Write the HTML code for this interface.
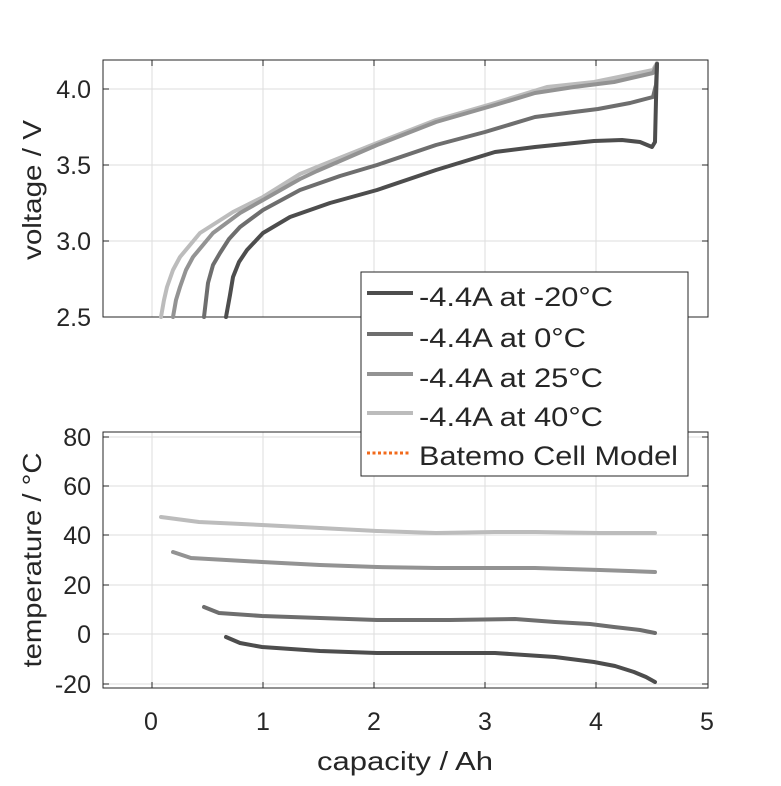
<!DOCTYPE html>
<html><head><meta charset="utf-8"><style>
html,body{margin:0;padding:0;background:#fff}
text{font-family:"Liberation Sans",sans-serif;fill:#262626}
</style></head><body>
<svg width="781" height="781" viewBox="0 0 781 781" xmlns="http://www.w3.org/2000/svg">
<rect width="781" height="781" fill="#fff"/>
<!-- top axes -->
<g stroke="#dedede" stroke-width="1">
<line x1="152" y1="60" x2="152" y2="317"/><line x1="263" y1="60" x2="263" y2="317"/><line x1="374" y1="60" x2="374" y2="317"/><line x1="485" y1="60" x2="485" y2="317"/><line x1="596" y1="60" x2="596" y2="317"/>
<line x1="103" y1="89" x2="708" y2="89"/><line x1="103" y1="165" x2="708" y2="165"/><line x1="103" y1="241" x2="708" y2="241"/>
</g>
<rect x="103" y="60" width="605" height="257" fill="none" stroke="#262626" stroke-width="1"/>
<g stroke="#262626"><line x1="103" y1="89" x2="109" y2="89"/><line x1="103" y1="165" x2="109" y2="165"/><line x1="103" y1="241" x2="109" y2="241"/>
<line x1="708" y1="89" x2="702" y2="89"/><line x1="708" y1="165" x2="702" y2="165"/><line x1="708" y1="241" x2="702" y2="241"/>
<line x1="152" y1="60" x2="152" y2="66"/><line x1="263" y1="60" x2="263" y2="66"/><line x1="374" y1="60" x2="374" y2="66"/><line x1="485" y1="60" x2="485" y2="66"/><line x1="596" y1="60" x2="596" y2="66"/></g>
<g font-size="25" text-anchor="end"><text x="91" y="98">4.0</text><text x="91" y="174">3.5</text><text x="91" y="250">3.0</text><text x="91" y="326">2.5</text></g>
<text transform="translate(41,190) rotate(-90)" font-size="26" text-anchor="middle" textLength="140" lengthAdjust="spacingAndGlyphs">voltage / V</text>
<g fill="none" stroke-width="4" stroke-linejoin="round" stroke-linecap="round">
<polyline stroke="#bcbcbc" points="161,317 164,300 167,287 173,270 180,257 200,233 233,212 263,197 300,174 317,167 377,143 436,120 495,103 547,87 594,82 653,70 657,63"/>
<polyline stroke="#939393" points="173,317 176,300 180,287 186,270 193,257 213,233 240,213 263,200 300,179 317,171 377,145 436,122 495,105 535,93 574,87 614,82 653,73 657,64"/>
<polyline stroke="#6e6e6e" points="204,317 208,283 213,265 220,253 229,239 240,227 263,210 300,190 340,176 377,165 436,145 485,132 535,117 574,112 598,109 630,103 653,97 656,85 657,64"/>
<polyline stroke="#4d4d4d" points="226,317 230,295 233,277 239,262 247,250 263,233 290,217 330,203 377,190 436,170 495,152 535,147 594,141 622,140 640,142 652,147 655,142 656,100 657,64"/>
</g>
<!-- bottom axes -->
<g stroke="#dedede" stroke-width="1">
<line x1="152" y1="432" x2="152" y2="688"/><line x1="263" y1="432" x2="263" y2="688"/><line x1="374" y1="432" x2="374" y2="688"/><line x1="485" y1="432" x2="485" y2="688"/><line x1="596" y1="432" x2="596" y2="688"/>
<line x1="103" y1="437" x2="708" y2="437"/><line x1="103" y1="486" x2="708" y2="486"/><line x1="103" y1="535" x2="708" y2="535"/><line x1="103" y1="585" x2="708" y2="585"/><line x1="103" y1="634" x2="708" y2="634"/><line x1="103" y1="684" x2="708" y2="684"/>
</g>
<rect x="103" y="432" width="605" height="256" fill="none" stroke="#262626" stroke-width="1"/>
<g stroke="#262626"><line x1="152" y1="688" x2="152" y2="682"/><line x1="263" y1="688" x2="263" y2="682"/><line x1="374" y1="688" x2="374" y2="682"/><line x1="485" y1="688" x2="485" y2="682"/><line x1="596" y1="688" x2="596" y2="682"/>
<line x1="103" y1="437" x2="109" y2="437"/><line x1="103" y1="486" x2="109" y2="486"/><line x1="103" y1="535" x2="109" y2="535"/><line x1="103" y1="585" x2="109" y2="585"/><line x1="103" y1="634" x2="109" y2="634"/><line x1="103" y1="684" x2="109" y2="684"/>
<line x1="708" y1="437" x2="702" y2="437"/><line x1="708" y1="486" x2="702" y2="486"/><line x1="708" y1="535" x2="702" y2="535"/><line x1="708" y1="585" x2="702" y2="585"/><line x1="708" y1="634" x2="702" y2="634"/><line x1="708" y1="684" x2="702" y2="684"/></g>
<g font-size="25" text-anchor="end"><text x="91" y="446">80</text><text x="91" y="495">60</text><text x="91" y="544">40</text><text x="91" y="594">20</text><text x="91" y="643">0</text><text x="91" y="693">-20</text></g>
<g font-size="25" text-anchor="middle"><text x="151" y="730">0</text><text x="263" y="730">1</text><text x="374" y="730">2</text><text x="485" y="730">3</text><text x="596" y="730">4</text><text x="707" y="730">5</text></g>
<text x="317" y="770" font-size="26" textLength="176" lengthAdjust="spacingAndGlyphs">capacity / Ah</text>
<text transform="translate(41,560) rotate(-90)" font-size="26" text-anchor="middle" textLength="215" lengthAdjust="spacingAndGlyphs">temperature / °C</text>
<g fill="none" stroke-width="4" stroke-linejoin="round" stroke-linecap="round">
<polyline stroke="#bcbcbc" points="161,517 199,522 262,525 320,528 377,531 436,533 495,532 535,532 600,533 655,533"/>
<polyline stroke="#939393" points="173,552 191,558 262,562 320,565 377,567 436,568 495,568 535,568 600,570 655,572"/>
<polyline stroke="#6e6e6e" points="204,607 219,613 262,616 320,618 377,620 450,620 515,619 555,622 590,624 614,627 640,630 655,633"/>
<polyline stroke="#4d4d4d" points="226,637 240,643 262,647 320,651 377,653 436,653 495,653 555,657 594,662 615,666 634,672 646,677 655,682"/>
</g>
<!-- legend -->
<rect x="361" y="272" width="327" height="204" fill="#fff" stroke="#262626" stroke-width="1"/>
<g stroke-width="4"><line x1="367" y1="293" x2="413" y2="293" stroke="#4d4d4d"/><line x1="367" y1="334" x2="413" y2="334" stroke="#6e6e6e"/><line x1="367" y1="374" x2="413" y2="374" stroke="#939393"/><line x1="367" y1="413" x2="413" y2="413" stroke="#bcbcbc"/>
<line x1="367" y1="453" x2="411" y2="453" stroke="#f26a1b" stroke-width="3" stroke-dasharray="3,2.5"/></g>
<g font-size="27"><text x="419" y="306" fill="#000" textLength="194" lengthAdjust="spacingAndGlyphs">-4.4A at -20°C</text><text x="419" y="347" fill="#000" textLength="167" lengthAdjust="spacingAndGlyphs">-4.4A at 0°C</text><text x="419" y="387" fill="#000" textLength="184" lengthAdjust="spacingAndGlyphs">-4.4A at 25°C</text><text x="419" y="426" fill="#000" textLength="184" lengthAdjust="spacingAndGlyphs">-4.4A at 40°C</text><text x="419" y="465" fill="#000" textLength="259" lengthAdjust="spacingAndGlyphs">Batemo Cell Model</text></g>
</svg>
</body></html>
